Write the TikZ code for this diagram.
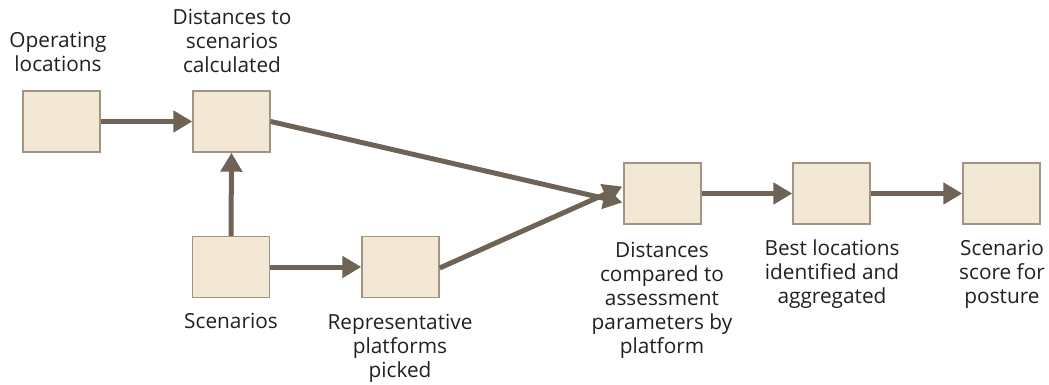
\documentclass[tikz,border=0pt]{standalone}
\usepackage{fontspec}
\setmainfont{Open Sans}
\usetikzlibrary{arrows.meta}
\definecolor{boxfill}{HTML}{F2E8D5}
\definecolor{boxline}{HTML}{A39480}
\definecolor{arrowc}{HTML}{6E6355}
\definecolor{txt}{HTML}{231F20}
\begin{document}
\begin{tikzpicture}[x=1pt,y=-1pt,
  stepbox/.style={draw=boxline,fill=boxfill,line width=1.4pt,minimum width=77pt,minimum height=61pt,inner sep=0pt},
  lbl/.style={align=center,font=\fontsize{20.8}{24}\selectfont,text=txt,inner sep=0pt},
  flow/.style={draw=arrowc,line width=5pt,-{Triangle[length=19pt,width=21pt]}}]
\useasboundingbox (0,0) rectangle (1049,385);
\node[stepbox] (b1) at (61.5,121.5) {};
\node[stepbox] (b2) at (231.5,121.5) {};
\node[stepbox] (b3) at (231,267) {};
\node[stepbox] (b4) at (400.5,267) {};
\node[stepbox] (b5) at (662.5,193.5) {};
\node[stepbox] (b6) at (831.5,193.5) {};
\node[stepbox] (b7) at (1001.5,193.5) {};
\node[lbl,anchor=base] (t1) at (58,72) {Operating\\locations};
\node[lbl,anchor=base] (t2) at (232,73) {Distances to\\scenarios\\calculated};
\node[lbl,anchor=base] (t3) at (231,328) {Scenarios};
\node[lbl,anchor=base] (t4) at (400,377) {Representative\\platforms\\picked};
\node[lbl,anchor=base] (t5) at (662,353) {Distances\\compared to\\assessment\\parameters by\\platform};
\node[lbl,anchor=base] (t6) at (832,303) {Best locations\\identified and\\aggregated};
\node[lbl,anchor=base] (t7) at (1002,303) {Scenario\\score for\\posture};
\draw[flow] (b1.east) -- (b2.west);
\draw[flow] (b3.north) -- (b2.south);
\draw[flow] (b3.east) -- (b4.west);
\draw[flow] (b2.east) -- ([xshift=-1pt,yshift=-9pt]b5.west);
\draw[flow] ([yshift=-1pt]b4.east) -- ([xshift=-1pt,yshift=7pt]b5.west);
\draw[flow] (b5.east) -- (b6.west);
\draw[flow] (b6.east) -- (b7.west);
\end{tikzpicture}
\end{document}
